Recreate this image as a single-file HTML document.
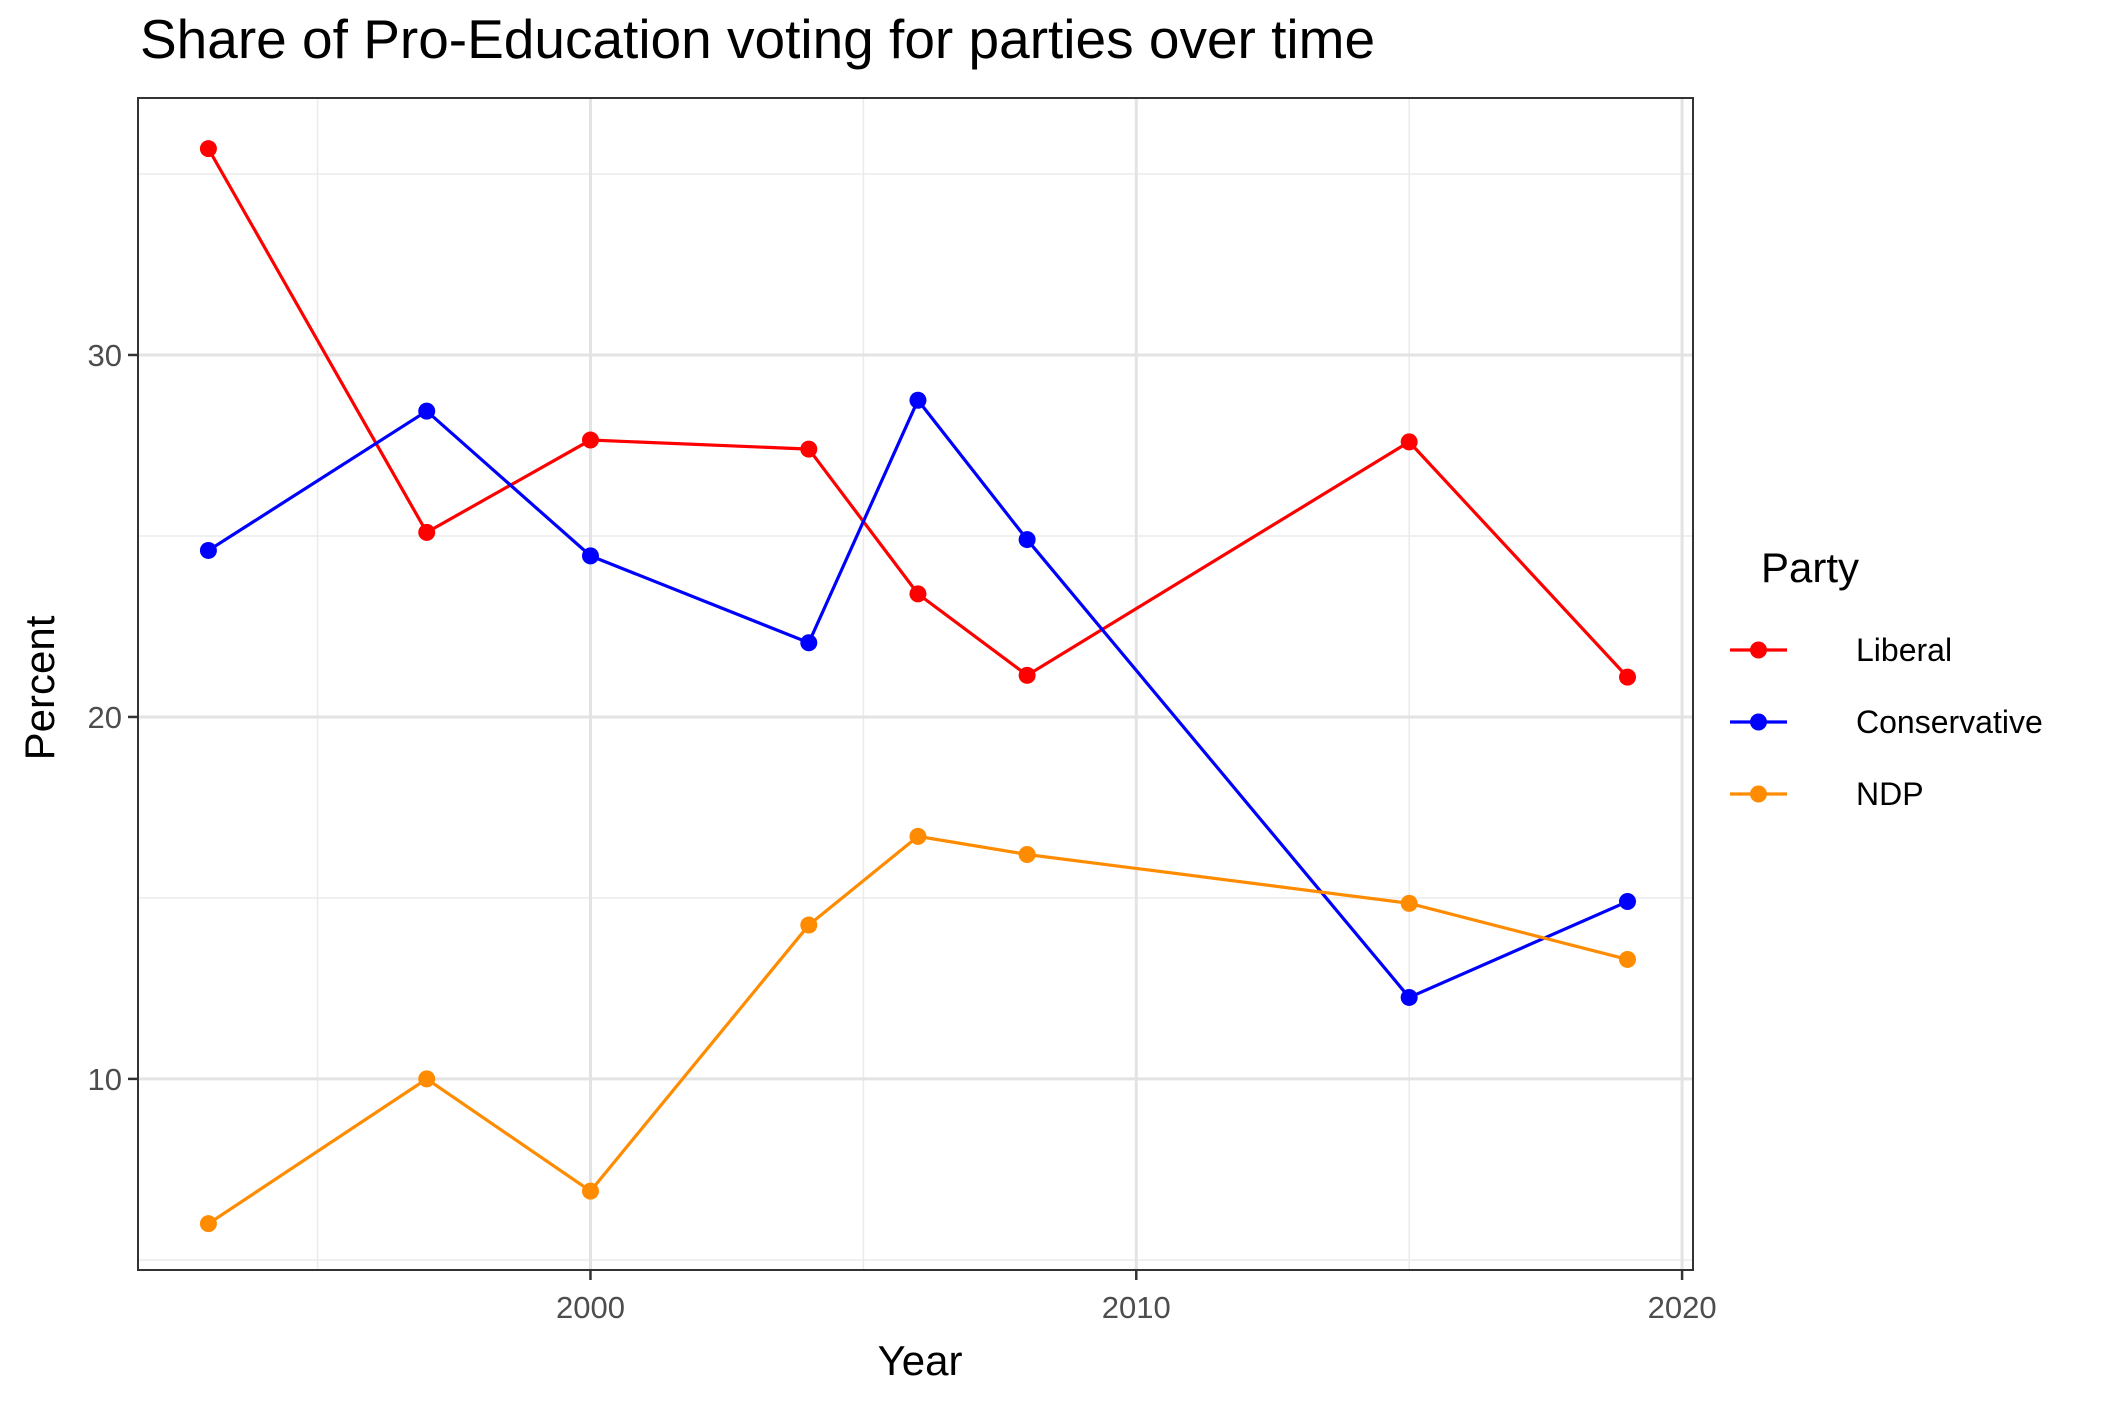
<!DOCTYPE html>
<html><head><meta charset="utf-8"><style>
body{margin:0;background:#fff;}
svg{display:block;font-family:"Liberation Sans",Arial,sans-serif;}
</style></head><body>
<svg id="chart" width="2116" height="1404" viewBox="0 0 2116 1404">
<text x="140" y="58" font-size="55" fill="#000">Share of Pro-Education voting for parties over time</text>
<g id="grid"></g>
<g id="series"></g>
<rect x="138" y="98" width="1555" height="1172" fill="none" stroke="#333" stroke-width="2"/>
<g id="axes"></g>
<text x="920" y="1375" font-size="42" text-anchor="middle" fill="#000">Year</text>
<text transform="translate(54,688) rotate(-90)" font-size="42" text-anchor="middle" fill="#000">Percent</text>
<g id="legend">
<text x="1761" y="582" font-size="42" fill="#000">Party</text>
</g>
</svg>
<script>
const years = [1993,1997,2000,2004,2006,2008,2015,2019];
const liberal = [35.7,25.1,27.65,27.4,23.4,21.15,27.6,21.1];
const conservative = [24.6,28.45,24.45,22.05,28.75,24.9,12.25,14.9];
const ndp = [6.0,10.0,6.9,14.25,16.7,16.2,14.85,13.3];
const seriesNames = ["Liberal","Conservative","NDP"];
const xTicks = [2000,2010,2020];
const yTicks = [10,20,30];
const xMinor = [1995,2005,2015];
const yMinor = [5,15,25,35];
const colors = ["#ff0000","#0000ff","#ff8c00"];
const NS="http://www.w3.org/2000/svg";
const L=138,R=1693,T=98,B=1270;
const xMin=1991.71,xMax=2020.2,yMin=4.72,yMax=37.1;
function sx(v){return L+(v-xMin)/(xMax-xMin)*(R-L);}
function sy(v){return B-(v-yMin)/(yMax-yMin)*(B-T);}
function mk(tag,attrs,parent){const e=document.createElementNS(NS,tag);for(const k in attrs)e.setAttribute(k,attrs[k]);parent.appendChild(e);return e;}
const grid=document.getElementById('grid'),axes=document.getElementById('axes'),ser=document.getElementById('series'),leg=document.getElementById('legend');
xMinor.forEach(v=>{const l=mk('line',{x1:sx(v),x2:sx(v),y1:T,y2:B,stroke:'#ebebeb','stroke-width':1.5},grid);

});
yMinor.forEach(v=>{const l=mk('line',{x1:L,x2:R,y1:sy(v),y2:sy(v),stroke:'#ebebeb','stroke-width':1.5},grid);

});
xTicks.forEach(v=>{const l=mk('line',{x1:sx(v),x2:sx(v),y1:T,y2:B,stroke:'#e3e3e3','stroke-width':3},grid);


const t=mk('line',{x1:sx(v),x2:sx(v),y1:B,y2:B+10,stroke:'#333','stroke-width':2.5},axes);


const tx=mk('text',{x:sx(v),y:B+48,'font-size':31,'text-anchor':'middle',fill:'#4d4d4d'},axes);tx.textContent=v;

});
yTicks.forEach(v=>{const l=mk('line',{x1:L,x2:R,y1:sy(v),y2:sy(v),stroke:'#e3e3e3','stroke-width':3},grid);


const t=mk('line',{x1:L-10,x2:L,y1:sy(v),y2:sy(v),stroke:'#333','stroke-width':2.5},axes);


const tx=mk('text',{x:L-16,y:sy(v)+11,'font-size':31,'text-anchor':'end',fill:'#4d4d4d'},axes);tx.textContent=v;

});
[liberal,conservative,ndp].forEach((vals,i)=>{
const g=mk('g',{},ser);


const p=mk('polyline',{points:vals.map((v,j)=>sx(years[j])+','+sy(v)).join(' '),fill:'none',stroke:colors[i],'stroke-width':3.2},g);


vals.forEach((v,j)=>{const c=mk('circle',{cx:sx(years[j]),cy:sy(v),r:8.5,fill:colors[i]},g);

});
const ly=650+i*72;
const e=mk('g',{},leg);


mk('line',{x1:1730,x2:1787,y1:ly,y2:ly,stroke:colors[i],'stroke-width':3.2},e);
mk('circle',{cx:1758.5,cy:ly,r:8.5,fill:colors[i]},e);
const tx=mk('text',{x:1856,y:ly+11,'font-size':32,fill:'#000'},e);tx.textContent=seriesNames[i];
});
</script>
</body></html>
